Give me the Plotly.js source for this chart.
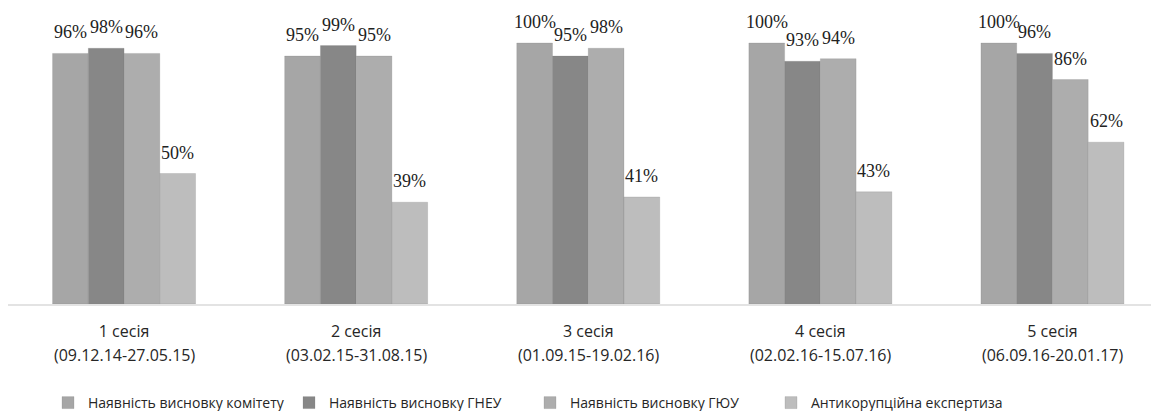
<!DOCTYPE html>
<html>
<head>
<meta charset="utf-8">
<script src="https://cdn.plot.ly/plotly-3.0.1.min.js"></script>
<style>
  html, body { margin: 0; padding: 0; background: #fff; }
  #chart { width: 1151px; height: 411px; }
</style>
</head>
<body>
<div id="chart"></div>
<script>
// Sessions of parliament and their date ranges (two-line category labels)
const sessions = ['1 сесія', '2 сесія', '3 сесія', '4 сесія', '5 сесія'];
const periods = ['(09.12.14-27.05.15)', '(03.02.15-31.08.15)', '(01.09.15-19.02.16)',
                 '(02.02.16-15.07.16)', '(06.09.16-20.01.17)'];

// Share of draft laws (%) by type of review
const seriesNames = ['Наявність висновку комітету', 'Наявність висновку ГНЕУ',
                     'Наявність висновку ГЮУ', 'Антикорупційна експертиза'];
const committee = [96, 95, 100, 100, 100];
const gneu      = [98, 99, 95, 93, 96];
const gyu       = [96, 95, 98, 94, 86];
const antiCorr  = [50, 39, 41, 43, 62];

const seriesValues = [committee, gneu, gyu, antiCorr];
const seriesColors = ['#a6a6a6', '#878787', '#adadad', '#bdbdbd'];

const xIdx = sessions.map((_, i) => i);
const bargap = 0.384;
const nSeries = seriesValues.length;
const barW = (1 - bargap) / nSeries;

const traces = seriesValues.map((vals, k) => ({
  type: 'bar',
  name: seriesNames[k],
  x: xIdx,
  y: vals,
  marker: { color: seriesColors[k], line: { color: 'rgba(120,120,120,0.35)', width: 0.6 } },
  hoverinfo: 'skip'
}));

// Value labels above each bar
const annotations = [];
seriesValues.forEach((vals, k) => {
  vals.forEach((v, i) => {
    annotations.push({
      x: i + (k - (nSeries - 1) / 2) * barW,
      y: v,
      xref: 'x', yref: 'y',
      text: v + '%',
      showarrow: false,
      xanchor: 'center', yanchor: 'bottom',
      yshift: 9,
      font: { family: 'Liberation Serif, serif', size: 18, color: '#222' }
    });
  });
});

// Second line of the category labels: the session's date range
periods.forEach((p, i) => {
  annotations.push({
    x: i, y: 0, xref: 'x', yref: 'paper',
    text: p, showarrow: false,
    xanchor: 'center', yanchor: 'middle',
    yshift: -51,
    font: { family: 'Open Sans, sans-serif', size: 16, color: '#262626' }
  });
});

const plotTop = 10, plotBottom = 107;
const plotH = 411 - plotTop - plotBottom;
const pxPerPct = 2.61;

const layout = {
  width: 1151, height: 411,
  margin: { l: 8, r: 0, t: plotTop, b: plotBottom, autoexpand: false },
  paper_bgcolor: '#ffffff', plot_bgcolor: '#ffffff',
  barmode: 'group', bargap: bargap, bargroupgap: 0,
  showlegend: true,
  legend: {
    orientation: 'h',
    x: 40 / 1143, xanchor: 'left',
    yref: 'container',
    y: 8 / 411, yanchor: 'middle',
    font: { family: 'Open Sans, sans-serif', size: 14, color: '#262626' },
    itemwidth: 30,
    entrywidth: 196,
    traceorder: 'normal'
  },
  xaxis: {
    range: [-0.5, -0.5 + 1143 / 232.1],
    tickmode: 'array', tickvals: xIdx, ticktext: sessions,
    ticks: '', showgrid: false, zeroline: false,
    showline: true, linecolor: '#e3e3e3', linewidth: 2,
    ticklabelstandoff: 12,
    tickfont: { family: 'Open Sans, sans-serif', size: 16, color: '#262626' },
    fixedrange: true
  },
  yaxis: {
    range: [0, plotH / pxPerPct],
    visible: false, showgrid: false, zeroline: false, fixedrange: true
  },
  annotations: annotations
};

Plotly.newPlot('chart', traces, layout, { displayModeBar: false, staticPlot: true });
</script>
</body>
</html>
